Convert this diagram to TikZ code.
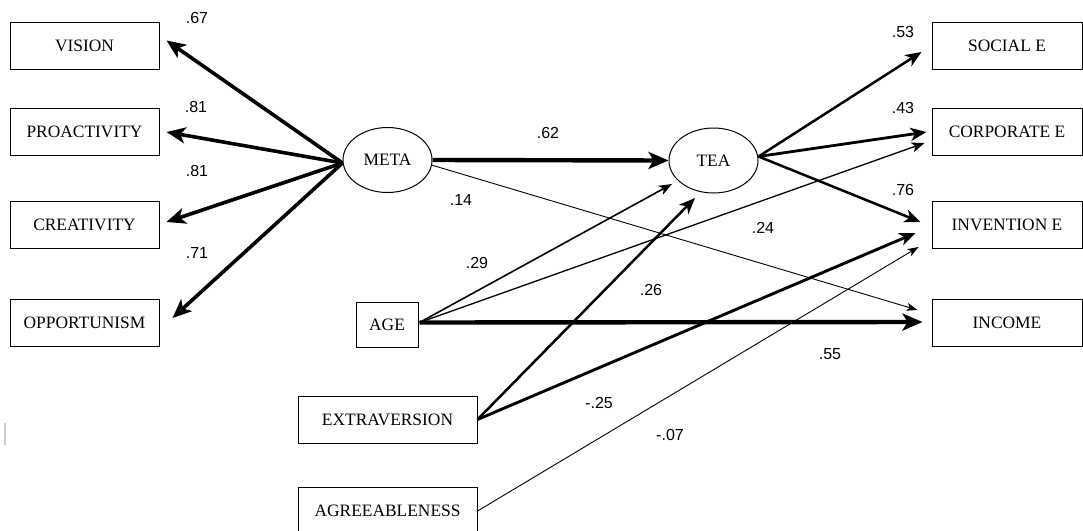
\documentclass[tikz,border=0pt]{standalone}
\usepackage{fontspec}
\setmainfont{Liberation Serif}
\newfontfamily\labfont{Liberation Sans}
\usetikzlibrary{arrows.meta,calc,shapes.geometric}
\begin{document}
\begin{tikzpicture}[x=1pt,y=-1pt,
  box/.style={draw,line width=1pt,rectangle,minimum width=149pt,minimum height=47pt,inner sep=0pt,font=\fontsize{17.4}{19}\selectfont},
  latent/.style={draw,line width=1pt,ellipse,minimum width=89pt,minimum height=65pt,inner sep=0pt,font=\fontsize{17.4}{19}\selectfont},
  lab/.style={font=\labfont\fontsize{16}{18}\selectfont,inner sep=0pt},
  heavy/.style={line width=3.6pt,-{Stealth[length=19pt,width=16pt,inset=5pt]}},
  heavier/.style={line width=4.4pt,-{Stealth[length=20pt,width=17pt,inset=5pt]}},
  medium/.style={line width=2.5pt,-{Stealth[length=16pt,width=13pt,inset=4.5pt]}},
  light/.style={line width=1.6pt,-{Stealth[length=13pt,width=10pt,inset=3.5pt]}},
  faint/.style={line width=0.9pt,-{Stealth[length=11pt,width=8pt,inset=3pt]}}
]
\useasboundingbox (0,0) rectangle (1083,530);
% left indicators
\node[box] (vision) at (84.5,45.5) {VISION};
\node[box] (proact) at (84.5,132) {PROACTIVITY};
\node[box] (creat) at (84.5,224.5) {CREATIVITY};
\node[box] (opport) at (84.5,323) {OPPORTUNISM};
% right outcomes
\node[box,minimum width=150pt] (social) at (1007,45.5) {SOCIAL E};
\node[box,minimum width=150pt] (corp) at (1007,132) {CORPORATE E};
\node[box,minimum width=150pt] (invent) at (1007,224.5) {INVENTION E};
\node[box,minimum width=150pt] (income) at (1007,323) {INCOME};
% latents
\node[latent] (meta) at (387.5,160) {META};
\node[latent] (tea) at (713.5,160.5) {TEA};
% predictors
\node[box,minimum width=62pt,minimum height=45pt] (age) at (387,324.5) {AGE};
\node[box,minimum width=179pt] (extra) at (387.5,419.5) {EXTRAVERSION};
\node[box,minimum width=179pt,minimum height=48pt] (agree) at (387.5,511) {AGREEABLENESS};
% helper coordinates
\coordinate (metaL) at ($(meta.west)+(0,3)$);
\coordinate (metaR) at ($(meta.east)+(-1,5)$);
\coordinate (teaR) at ($(tea.east)+(0,-4)$);
\coordinate (ageR) at ($(age.east)+(1,-2)$);
% META loadings
\draw[heavy] (metaL) -- ($(vision.east)+(7,-5)$);
\draw[heavy] (metaL) -- ($(proact.east)+(7,0)$);
\draw[heavy] (metaL) -- ($(creat.east)+(7,-2.5)$);
\draw[heavy] (metaL) -- ($(opport.east)+(13,-5)$);
% META -> TEA
\draw[heavier] (meta.east) -- (tea.west);
% META -> INCOME
\draw[faint] (metaR) -- ($(income.west)+(-14,-13)$);
% TEA outcomes
\draw[medium] (teaR) -- ($(social.west)+(-10,6.5)$);
\draw[medium,line width=2.8pt] (teaR) -- ($(corp.west)+(-5,0)$);
\draw[medium] (teaR) -- ($(invent.west)+(-11,-2.5)$);
% AGE
\draw[light] (ageR) -- ($(tea.center)+(-41.5,23.5)$);
\draw[light,line width=1.3pt] (ageR) -- ($(corp.west)+(-7,11)$);
\draw[heavier] (ageR) -- ($(income.west)+(-9,-1)$);
% EXTRAVERSION
\draw[medium] (extra.east) -- ($(tea.center)+(-18.5,37.5)$);
\draw[medium,line width=2.9pt] (extra.east) -- ($(invent.west)+(-16,8.5)$);
% AGREEABLENESS
\draw[faint] (agree.east) -- ($(invent.west)+(-13,22.5)$);
% labels
\node[lab] (l1) at (197,18) {.67};
\node[lab] (l2) at (196,107) {.81};
\node[lab] (l3) at (197,171) {.81};
\node[lab] (l4) at (197,253) {.71};
\node[lab] (l5) at (548,133) {.62};
\node[lab] (l6) at (461,200) {.14};
\node[lab] (l7) at (477,263) {.29};
\node[lab] (l8) at (763,228) {.24};
\node[lab] (l9) at (651,290) {.26};
\node[lab] (l10) at (830,354) {.55};
\node[lab] (l11) at (599,403) {-.25};
\node[lab] (l12) at (670,435) {-.07};
\node[lab] (l13) at (903,32) {.53};
\node[lab] (l14) at (903,108) {.43};
\node[lab] (l15) at (903,190) {.76};
% small margin mark
\draw[line width=1.2pt,black!20] (5,423) -- (5,445);
\end{tikzpicture}
\end{document}
